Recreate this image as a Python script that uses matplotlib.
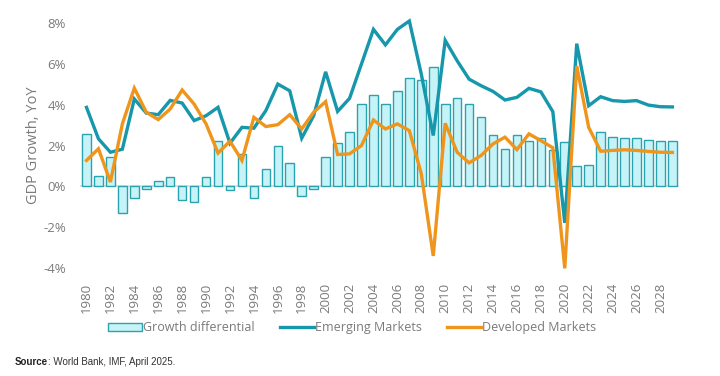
#!/usr/bin/env python
# -*- coding: utf-8 -*-

"""

  GDP growth: emerging vs developed markets, with the growth differential.

"""

#...for the plotting.
import matplotlib.pyplot as plt

#...for the MATH.
import numpy as np

## The years.
years = np.arange(1980, 2030)

## Growth differential (EM minus DM) [%].
growth_diff = [2.54, 0.50, 1.43, -1.33, -0.55, -0.11, 0.28, 0.44, -0.67, -0.75,
               0.47, 2.24, -0.18, 1.58, -0.55, 0.85, 1.97, 1.15, -0.46, -0.13,
               1.46, 2.13, 2.68, 4.02, 4.47, 4.03, 4.65, 5.33, 5.22, 5.85,
               4.03, 4.33, 4.03, 3.40, 2.52, 1.84, 2.52, 2.21, 2.36, 1.79,
               2.18, 1.02, 1.06, 2.65, 2.42, 2.36, 2.39, 2.26, 2.21, 2.24]

## Emerging markets growth [%].
em_growth = [3.87, 2.33, 1.67, 1.82, 4.28, 3.59, 3.51, 4.21, 4.08, 3.22,
             3.46, 3.87, 2.11, 2.89, 2.85, 3.71, 5.01, 4.68, 2.36, 3.46,
             5.61, 3.67, 4.31, 6.00, 7.69, 6.93, 7.69, 8.10, 5.50, 2.49,
             7.15, 6.15, 5.25, 4.93, 4.65, 4.23, 4.36, 4.80, 4.63, 3.66,
             -1.79, 6.99, 3.95, 4.39, 4.20, 4.16, 4.20, 3.98, 3.90, 3.89]

## Developed markets growth [%].
dm_growth = [1.27, 1.84, 0.21, 3.06, 4.81, 3.63, 3.27, 3.79, 4.72, 4.03,
             3.06, 1.63, 2.21, 1.27, 3.38, 2.93, 3.02, 3.51, 2.81, 3.63,
             4.15, 1.56, 1.59, 2.00, 3.25, 2.81, 3.06, 2.73, 0.62, -3.41,
             3.09, 1.67, 1.15, 1.51, 2.08, 2.41, 1.80, 2.57, 2.24, 1.89,
             -4.02, 5.90, 2.89, 1.72, 1.76, 1.79, 1.76, 1.71, 1.67, 1.66]

## The y axis ticks [%].
y_ticks = [-4, -2, 0, 2, 4, 6, 8]

## The x axis ticks (every other year).
x_ticks = np.arange(1980, 2029, 2)

# Colours.
em_col = '#1697ab'
dm_col = '#f0951c'
bar_fill = '#c6f3f7'
bar_edge = '#2aa3ae'
txt_col = '#7a7a7a'

plt.rcParams['font.family'] = ['Open Sans', 'DejaVu Sans']

## The figure.
plot = plt.figure(figsize=(7.2, 3.76), dpi=100, facecolor='w')

## The plot axes.
plotax = plot.add_axes([0.111, 0.271, 0.832, 0.684])

# The zero line.
plotax.axhline(0, color='#d9d9d9', linewidth=1.2, zorder=1)

# The growth differential bars.
plotax.bar(years, growth_diff, width=0.72, color=bar_fill, edgecolor=bar_edge,
           linewidth=1.0, zorder=2, label='Growth differential')

# The growth lines.
plotax.plot(years, em_growth, color=em_col, linewidth=2.4, zorder=3,
            solid_joinstyle='miter', label='Emerging Markets')
plotax.plot(years, dm_growth, color=dm_col, linewidth=2.4, zorder=4,
            solid_joinstyle='miter', label='Developed Markets')

# Axis limits.
plotax.set_xlim(1979.45, 2029.55)
plotax.set_ylim(-4.3, 8.3)

# Ticks.
plotax.set_yticks(y_ticks)
plotax.set_yticklabels(['%d%%' % v for v in y_ticks])
plotax.set_xticks(x_ticks)
plotax.set_xticklabels([str(y) for y in x_ticks], rotation=90)
plotax.tick_params(axis='both', length=0, colors=txt_col, labelsize=9.5)
plotax.tick_params(axis='x', pad=6)
plotax.tick_params(axis='y', pad=10)

# Axis label.
plotax.set_ylabel('GDP Growth, YoY', color=txt_col, fontsize=10.5, labelpad=2)

# No spines.
for s in plotax.spines.values():
    s.set_visible(False)

# The legend.
handles, labels = plotax.get_legend_handles_labels()
order = [2, 0, 1]
leg = plot.legend([handles[i] for i in order], [labels[i] for i in order],
                  loc='center', bbox_to_anchor=(0.489, 0.128), ncol=3,
                  frameon=False, fontsize=9, handlelength=2.7,
                  handletextpad=0.1, columnspacing=2.0, labelcolor=txt_col)

# The source note: bold "Source" followed by the rest.
src = plot.text(0.021, 0.03, 'Source', fontsize=7, fontweight='bold',
                color='#222222', family=['Liberation Sans', 'DejaVu Sans'])
plot.canvas.draw()
bb = src.get_window_extent().transformed(plot.transFigure.inverted())
plot.text(bb.x1, 0.03, ': World Bank, IMF, April 2025.', fontsize=7,
          color='#333333', family=['Liberation Sans', 'DejaVu Sans'])

# Save the figure.
plot.savefig('out.png', dpi=100)
